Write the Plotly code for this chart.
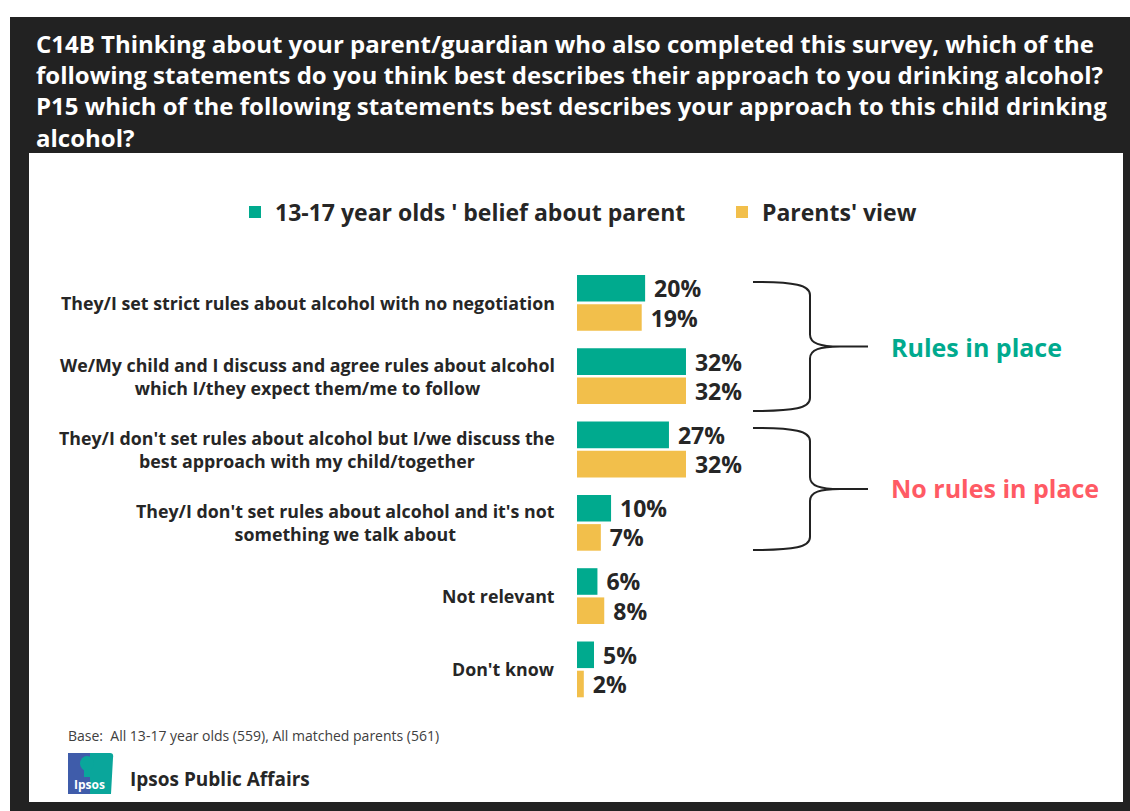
import plotly.graph_objects as go

W, H = 1130, 811

# ---------------- data ----------------
categories = [
    "They/I set strict rules about alcohol with no negotiation",
    "We/My child and I discuss and agree rules about alcohol<br>which I/they expect them/me to follow",
    "They/I don't set rules about alcohol but I/we discuss the<br>best approach with my child/together",
    "They/I don't set rules about alcohol and it's not<br>something we talk about",
    "Not relevant",
    "Don't know",
]
teen_values = [20, 32, 27, 10, 6, 5]
parent_values = [19, 32, 32, 7, 8, 2]
series_names = ["13-17 year olds ' belief about parent", "Parents' view"]
title_lines = [
    "C14B Thinking about your parent/guardian who also completed this survey, which of the",
    "following statements do you think best describes their approach to you drinking alcohol?",
    "P15 which of the following statements best describes your approach to this child drinking",
    "alcohol?",
]
group_labels = ["Rules in place", "No rules in place"]
base_note = "Base:  All 13-17 year olds (559), All matched parents (561)"
brand_text = "Ipsos Public Affairs"
logo_text = "Ipsos"

# ---------------- styles ----------------
FONT = "Open Sans"
TEAL = "#00AA8E"
GOLD = "#F2BF4B"
RED = "#FF5A64"
DARK = "#222222"
TXT = "#262626"


def px(x):
    return x / W


def py(y):
    return 1 - y / H


fig = go.Figure()
for vals, name, col, lw in [(teen_values, series_names[0], TEAL, 442),
                            (parent_values, series_names[1], GOLD, None)]:
    fig.add_trace(go.Bar(
        y=categories, x=vals, name=name, orientation="h",
        marker=dict(color=col, line=dict(width=0)),
        text=[f" {v}%" for v in vals], textposition="outside",
        textfont=dict(family=FONT, size=23, color=TXT, weight="bold"),
        constraintext="none", cliponaxis=False, hoverinfo="skip",
        legendwidth=lw,
    ))

shapes = [
    dict(type="rect", xref="paper", yref="paper", x0=px(10), x1=px(1130), y0=py(811), y1=py(17),
         fillcolor=DARK, line=dict(width=0), layer="below"),
    dict(type="rect", xref="paper", yref="paper", x0=px(29), x1=px(1123), y0=py(802), y1=py(153),
         fillcolor="white", line=dict(width=0), layer="below"),
]


def brace(x0, xv, xt, ytop, ybot, ytip):
    pts = [
        ("M", [(x0, ytop)]),
        ("C", [(xv - 15, ytop), (xv, ytop + 3), (xv, ytop + 13)]),
        ("L", [(xv, ytip - 12)]),
        ("C", [(xv, ytip - 3), (xv + 10, ytip), (xv + 30, ytip)]),
        ("L", [(xt, ytip)]),
        ("M", [(xv + 30, ytip)]),
        ("C", [(xv + 10, ytip), (xv, ytip + 3), (xv, ytip + 12)]),
        ("L", [(xv, ybot - 13)]),
        ("C", [(xv, ybot - 3), (xv - 15, ybot), (x0, ybot)]),
    ]
    s = ""
    for cmd, ps in pts:
        s += cmd + " " + " ".join(f"{px(a):.5f},{py(b):.5f}" for a, b in ps) + " "
    return dict(type="path", xref="paper", yref="paper", path=s.strip(),
                line=dict(color=DARK, width=2))


shapes.append(brace(753, 810, 868, 282, 411, 346.5))
shapes.append(brace(753, 810, 868, 428, 550, 489))

# Ipsos logo
LOGO_BLUE = "#3F5CAA"
LOGO_TEAL = "#0AA69B"
shapes.append(dict(type="rect", xref="paper", yref="paper", x0=px(68), x1=px(91), y0=py(794), y1=py(753),
                   fillcolor=LOGO_BLUE, line=dict(width=0), layer="above"))
shapes.append(dict(type="path", xref="paper", yref="paper",
                   path=f"M {px(90)},{py(753)} L {px(110)},{py(753)} Q {px(114)},{py(753)} {px(113)},{py(758)} "
                        f"L {px(111)},{py(794)} L {px(90)},{py(794)} Z",
                   fillcolor=LOGO_TEAL, line=dict(width=0), layer="above"))
shapes.append(dict(type="circle", xref="paper", yref="paper", x0=px(80), x1=px(94), y0=py(771), y1=py(756),
                   fillcolor=LOGO_TEAL, line=dict(width=0), layer="above"))
shapes.append(dict(type="rect", xref="paper", yref="paper", x0=px(84), x1=px(91), y0=py(777), y1=py(766),
                   fillcolor=LOGO_TEAL, line=dict(width=0), layer="above"))

annotations = []
for i, line in enumerate(title_lines):
    annotations.append(dict(text=line, xref="paper", yref="paper", x=px(34), y=py(44 + 31 * i),
                            xanchor="left", yanchor="middle", showarrow=False,
                            font=dict(family=FONT, size=24, color="white", weight="bold")))
for cat in categories:
    annotations.append(dict(text=cat, xref="paper", yref="y", x=px(557), y=cat,
                            xanchor="right", yanchor="middle", align="center", showarrow=False,
                            font=dict(family=FONT, size=17.8, color=TXT, weight="bold")))
annotations.append(dict(text=group_labels[0], xref="paper", yref="paper", x=px(889), y=py(347),
                        xanchor="left", yanchor="middle", showarrow=False,
                        font=dict(family=FONT, size=25, color=TEAL, weight="bold")))
annotations.append(dict(text=group_labels[1], xref="paper", yref="paper", x=px(889), y=py(488),
                        xanchor="left", yanchor="middle", showarrow=False,
                        font=dict(family=FONT, size=25, color=RED, weight="bold")))
annotations.append(dict(text=base_note, xref="paper", yref="paper", x=px(66), y=py(735),
                        xanchor="left", yanchor="middle", showarrow=False,
                        font=dict(family=FONT, size=14, color="#404040")))
annotations.append(dict(text=brand_text, xref="paper", yref="paper", x=px(128), y=py(779),
                        xanchor="left", yanchor="middle", showarrow=False,
                        font=dict(family=FONT, size=19, color=TXT, weight="bold")))
annotations.append(dict(text=logo_text, xref="paper", yref="paper", x=px(89), y=py(784),
                        xanchor="center", yanchor="middle", showarrow=False,
                        font=dict(family=FONT, size=12, color="white", weight="bold")))

fig.update_layout(
    width=W, height=H,
    margin=dict(l=0, r=0, t=0, b=0),
    paper_bgcolor="white", plot_bgcolor="rgba(0,0,0,0)",
    barmode="group", bargap=0.203, bargroupgap=0.09,
    showlegend=True,
    legend=dict(orientation="h", x=px(235), y=py(212), xanchor="left", yanchor="middle",
                font=dict(family=FONT, size=23, color=TXT, weight="bold"),
                bgcolor="rgba(0,0,0,0)", itemclick=False, itemdoubleclick=False),
    xaxis=dict(domain=[px(577), px(1123)], range=[0, (1123 - 577) / 3.406],
               visible=False, fixedrange=True),
    yaxis=dict(domain=[py(706.05), py(266.25)], range=[len(categories) - 0.5, -0.5],
               showticklabels=False, showgrid=False, zeroline=False, showline=False,
               ticks="", fixedrange=True),
    shapes=shapes,
    annotations=annotations,
)

fig.write_html(
    "out.html",
    config={"displayModeBar": False},
    post_script="document.body.style.margin='0';document.body.style.overflow='hidden';",
)
